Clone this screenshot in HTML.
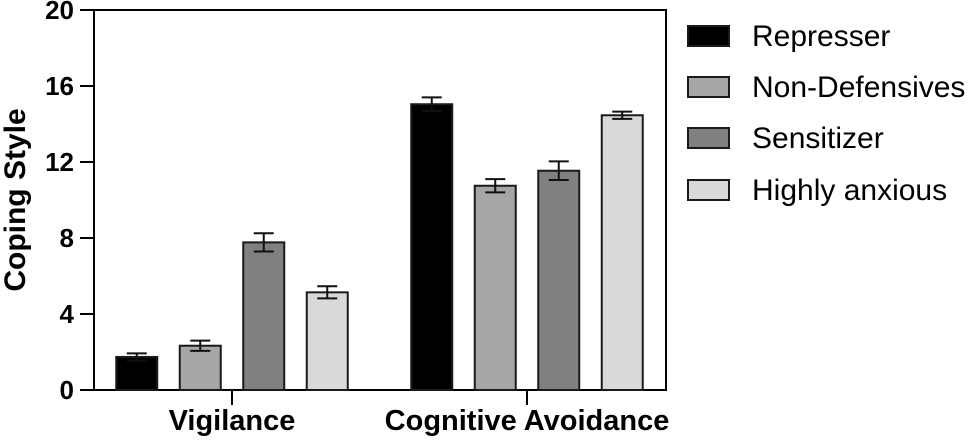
<!DOCTYPE html>
<html><head><meta charset="utf-8"><style>
body{margin:0;background:#fff;}
svg{display:block;font-family:"Liberation Sans",Arial,sans-serif;}
</style></head><body>
<svg id="chart" width="968" height="442" viewBox="0 0 968 442" xmlns="http://www.w3.org/2000/svg"></svg>
<script>
const categories = ["Vigilance", "Cognitive Avoidance"];
const seriesNames = ["Represser", "Non-Defensives", "Sensitizer", "Highly anxious"];
const represser = [1.74, 15.04];
const nonDefensives = [2.33, 10.75];
const sensitizer = [7.77, 11.54];
const highlyAnxious = [5.14, 14.46];
const represserErr = [0.19, 0.36];
const nonDefensivesErr = [0.27, 0.35];
const sensitizerErr = [0.48, 0.49];
const highlyAnxiousErr = [0.32, 0.19];
const yTicks = [0, 4, 8, 12, 16, 20];

const values = [represser, nonDefensives, sensitizer, highlyAnxious];
const errs = [represserErr, nonDefensivesErr, sensitizerErr, highlyAnxiousErr];
const colors = ["#000000", "#a6a6a6", "#808080", "#d9d9d9"];
const NS = "http://www.w3.org/2000/svg";
const svg = document.getElementById("chart");
const L = 94, R = 666, T = 10, B = 390;
const yMax = 20;
function y(v){ return B - v / yMax * (B - T); }
const groupCenters = [232, 527];
const barW = 41, barStep = 63.5;
function barX(g, s){ return groupCenters[g] + (s - 1.5) * barStep - barW / 2; }
function el(tag, attrs, parent){
  const e = document.createElementNS(NS, tag);
  for (const k in attrs) e.setAttribute(k, attrs[k]);
  (parent || svg).appendChild(e);
  return e;
}
const frame = el("rect", {x:L, y:T, width:R-L, height:B-T, fill:"none", stroke:"#000", "stroke-width":2});


yTicks.forEach(t => {
  const ln = el("line", {x1:80, x2:L, y1:y(t), y2:y(t), stroke:"#000", "stroke-width":2});
  
  
  const tx = el("text", {x:74, y:y(t)+9, "text-anchor":"end", "font-size":26, "font-weight":"bold"});
  tx.textContent = t;
  
  
});
const yt = el("text", {x:0, y:0, transform:"translate(25,200) rotate(-90)", "text-anchor":"middle", "font-size":30, "font-weight":"bold"});
yt.textContent = "Coping Style";


categories.forEach((c, g) => {
  const tk = el("line", {x1:groupCenters[g], x2:groupCenters[g], y1:B, y2:405, stroke:"#000", "stroke-width":2});
  
  
  const lb = el("text", {x:groupCenters[g], y:430, "text-anchor":"middle", "font-size":29, "font-weight":"bold"});
  lb.textContent = c;
  
  
  values.forEach((ser, s) => {
    const v = ser[g], e = errs[s][g];
    const x = barX(g, s);
    const r = el("rect", {x:x, y:y(v), width:barW, height:B - y(v), fill:colors[s], stroke:"#1a1a1a", "stroke-width":2});
    
    
    const cx = x + barW / 2;
    const eg = el("g", {stroke:"#111", "stroke-width":2});
    
    
    el("line", {x1:cx, x2:cx, y1:y(v+e), y2:y(v-e)}, eg);
    el("line", {x1:cx-10, x2:cx+10, y1:y(v+e), y2:y(v+e)}, eg);
    el("line", {x1:cx-10, x2:cx+10, y1:y(v-e), y2:y(v-e)}, eg);
  });
});
const legendY = [36, 87, 138, 190];
seriesNames.forEach((n, s) => {
  const g = el("g", {});
  
  
  el("rect", {x:688, y:legendY[s]-10, width:41, height:20, fill:colors[s], stroke:"#1a1a1a", "stroke-width":2}, g);
  const t = el("text", {x:752, y:legendY[s]+10, "font-size":30}, g);
  t.textContent = n;
});
</script>
</body></html>
